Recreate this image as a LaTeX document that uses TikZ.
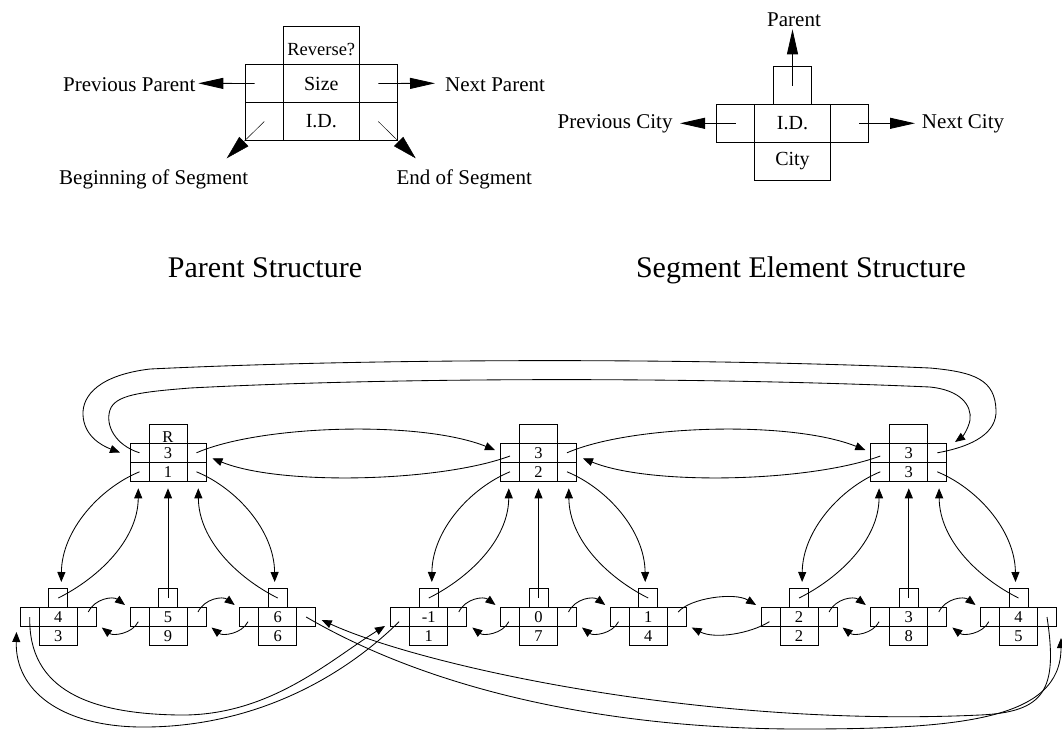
\documentclass[tikz,border=0pt]{standalone}
\usepackage{fontspec}
\setmainfont{Liberation Serif}
\usetikzlibrary{arrows.meta,calc}

% font sizes
\newcommand\fsDigit{\fontsize{16.5}{19}\selectfont}
\newcommand\fsCell{\fontsize{20}{24}\selectfont}
\newcommand\fsRev{\fontsize{18.5}{22}\selectfont}
\newcommand\fsOuter{\fontsize{21}{25}\selectfont}
\newcommand\fsTitle{\fontsize{30}{36}\selectfont}

\tikzset{
  sc/.style={draw, line width=0.85pt, minimum width=19pt, minimum height=19pt,
             inner sep=0pt, outer sep=0pt, font=\fsDigit},
  wc/.style={sc, minimum width=38pt},
  bsc/.style={draw, line width=0.85pt, minimum width=38pt, minimum height=38pt,
              inner sep=0pt, outer sep=0pt, font=\fsCell},
  bwc/.style={bsc, minimum width=76pt},
  arr/.style={-{Triangle[length=10pt,width=8pt]}, line width=0.85pt},
  bigarr/.style={-{Triangle[length=25pt,width=11pt]}, line width=0.85pt},
  thinarr/.style={-{Triangle[length=24pt,width=13pt]}, line width=0.45pt},
  lab/.style={font=\fsOuter, inner sep=0pt},
  ttl/.style={font=\fsTitle, inner sep=0pt},
}

% parent record: name, x, flag, size, id
\newcommand\parentrec[5]{%
  \node[wc] (#1-rv) at (#2,433.8) {};
  \node[font=\fsDigit, inner sep=0pt, anchor=base] (#1-rt) at (#2,442.3) {#3};
  \node[sc] (#1-pl) at ({#2-28.5},452.8) {};
  \node[wc] (#1-sz) at (#2,452.8) {#4};
  \node[sc] (#1-nx) at ({#2+28.5},452.8) {};
  \node[sc] (#1-bg) at ({#2-28.5},471.8) {};
  \node[wc] (#1-id) at (#2,471.8) {#5};
  \node[sc] (#1-en) at ({#2+28.5},471.8) {};
  \coordinate (#1-inl) at ({#2-43.5},450);
  \coordinate (#1-inr) at ({#2+44.5},458.3);
  \coordinate (#1-tl) at ({#2-29.7},488.3);
  \coordinate (#1-tm) at (#2,488.3);
  \coordinate (#1-tr) at ({#2+30.3},488.3);
  \coordinate (#1-po) at ({#2-28.5},456);
}

% segment element: name, x, id, city
\newcommand\segelem[4]{%
  \node[sc] (#1-up) at (#2,598) {};
  \node[sc] (#1-pl) at ({#2-28.5},617) {};
  \node[wc] (#1-id) at (#2,617) {#3};
  \node[sc] (#1-nx) at ({#2+28.5},617) {};
  \node[wc] (#1-ct) at (#2,636) {#4};
  \coordinate (#1-no) at ({#2+30},612);
  \coordinate (#1-po) at ({#2-29.7},621.7);
  \coordinate (#1-ni) at ({#2-43},605);
  \coordinate (#1-pi) at ({#2+43.5},627.5);
}

% links between neighbouring elements
\newcommand\nextarc[2]{\draw[arr] (#1-no) .. controls +(6.7,-13.7) and +(-12,-9) .. (#2-ni);}
\newcommand\prevarc[2]{\draw[arr] (#2-po) .. controls +(-6.3,12.3) and +(11.3,8.7) .. (#1-pi);}

% links between a parent and its three elements
\newcommand\famarcs[4]{%
  \draw[arr] (#1-bg.center) .. controls +(-39.5,16.2) and +(0.5,-52) .. ($(#2-up.north)+(3,-6.5)$);
  \draw[arr] (#2-up.center) .. controls +(40,-20) and +(-0.3,51.7) .. (#1-tl);
  \draw[arr] (#3-up.center) -- (#1-tm);
  \draw[arr] (#4-up.center) .. controls +(-40,-20) and +(0.3,51.7) .. (#1-tr);
  \draw[arr] (#1-en.center) .. controls +(39.5,16.2) and +(-0.5,-52) .. ($(#4-up.north)+(-3,-6.5)$);
}

% links between neighbouring parents
\newcommand\parnext[2]{\draw[arr] (#1-nx.center) .. controls +(63.5,-27.8) and +(-75,-30) .. (#2-inl);}
\newcommand\parprev[2]{\draw[arr] (#2-po) .. controls +(-70,26) and +(67.3,27.7) .. (#1-inr);}

\begin{document}
\begin{tikzpicture}[x=1pt,y=-1pt]
\useasboundingbox (0,0) rectangle (1062,729);

% ---------- parent structure legend ----------
\node[bwc] (ps-rv) at (321.3,45.5) {};
\node[font=\fsRev, inner sep=0pt, anchor=base] (ps-rvt) at (321.3,55.7) {Reverse?};
\node[bsc] (ps-pl) at (264.3,83.5) {};
\node[bwc] (ps-sz) at (321.3,83.5) {Size};
\node[bsc] (ps-nx) at (378.3,83.5) {};
\node[bsc] (ps-bg) at (264.3,121.5) {};
\node[bwc] (ps-id) at (321.3,121.5) {I.D.};
\node[bsc] (ps-en) at (378.3,121.5) {};

\node[lab, anchor=base east] (l-pp) at (195.7,91.7) {Previous Parent};
\node[lab, anchor=base west] (l-np) at (445,91.7) {Next Parent};
\node[lab, anchor=base] (l-bs) at (153.7,184.3) {Beginning of Segment};
\node[lab, anchor=base] (l-es) at (464.2,184.3) {End of Segment};
\coordinate (t-pp) at (198.3,83.3);
\coordinate (t-np) at (435,83.3);
\coordinate (t-bs) at (226.7,158.3);
\coordinate (t-es) at (415.7,158.3);
\draw[bigarr] ($(ps-pl.center)+(-9.6,0)$) -- (t-pp);
\draw[bigarr] (ps-nx.center) -- (t-np);
\draw[thinarr] (ps-bg.center) -- (t-bs);
\draw[thinarr] (ps-en.center) -- (t-es);

% ---------- segment element legend ----------
\node[bsc] (es-up) at (792.5,85.5) {};
\node[bsc] (es-pl) at (735.5,123.3) {};
\node[bwc] (es-id) at (792.5,123.3) {I.D.};
\node[bsc] (es-nx) at (849.5,123.3) {};
\node[bwc] (es-ct) at (792.5,161.3) {City};

\node[lab, anchor=base] (l-pa) at (794,26) {Parent};
\node[lab, anchor=base east] (l-pc) at (672.7,128.3) {Previous City};
\node[lab, anchor=base west] (l-nc) at (921.7,128.3) {Next City};
\coordinate (t-pa) at (792.5,29.3);
\coordinate (t-pc) at (680,123.3);
\coordinate (t-nc) at (915,123.3);
\draw[bigarr] (es-up.center) -- (t-pa);
\draw[bigarr] (es-pl.center) -- (t-pc);
\draw[bigarr] ($(es-nx.center)+(9.8,0)$) -- (t-nc);

% ---------- titles ----------
\node[ttl, anchor=base] (ttl-p) at (265,277) {Parent Structure};
\node[ttl, anchor=base] (ttl-s) at (801,277) {Segment Element Structure};

% ---------- example: parents ----------
\parentrec{p1}{168}{R}{3}{1}
\parentrec{p2}{538.5}{}{3}{2}
\parentrec{p3}{908.8}{}{3}{3}

% ---------- example: segment elements ----------
\segelem{a1}{58.3}{4}{3}
\segelem{a2}{168}{5}{9}
\segelem{a3}{277.7}{6}{6}
\segelem{b1}{428.8}{-1}{1}
\segelem{b2}{538.5}{0}{7}
\segelem{b3}{648.2}{1}{4}
\segelem{c1}{799.1}{2}{2}
\segelem{c2}{908.8}{3}{8}
\segelem{c3}{1018.5}{4}{5}

% parent ring
\parnext{p1}{p2}
\parnext{p2}{p3}
\parprev{p1}{p2}
\parprev{p2}{p3}
\coordinate (p1-lw) at (120,452.5);
\coordinate (p3-rw) at (955,442);
\draw[arr] (p3-nx.center) .. controls (975,446) and (997,432) .. (996,410)
  .. controls (995,380) and (975,372) .. (930,368)
  .. controls (700,358) and (380,358) .. (150,369)
  .. controls (100,375) and (82,395) .. (83,415)
  .. controls (84,435) and (100,445) .. (p1-lw);
\draw[arr] (p1-pl.center) .. controls (115,445) and (105,425) .. (110,410)
  .. controls (115,395) and (140,392) .. (190,388)
  .. controls (400,377) and (700,377) .. (930,387)
  .. controls (960,390) and (972,405) .. (970,420)
  .. controls (968,430) and (962,437) .. (p3-rw);

% parents and their elements
\famarcs{p1}{a1}{a2}{a3}
\famarcs{p2}{b1}{b2}{b3}
\famarcs{p3}{c1}{c2}{c3}

% element chains
\nextarc{a1}{a2}
\nextarc{a2}{a3}
\prevarc{a1}{a2}
\prevarc{a2}{a3}
\nextarc{b1}{b2}
\nextarc{b2}{b3}
\prevarc{b1}{b2}
\prevarc{b2}{b3}
\nextarc{c1}{c2}
\nextarc{c2}{c3}
\prevarc{c1}{c2}
\prevarc{c2}{c3}
\draw[arr] (b3-no) .. controls +(11.7,-14) and +(-21.7,-13) .. (c1-ni);
\draw[arr] (c1-po) .. controls +(-20,12.3) and +(22.7,11.7) .. (b3-pi);

% wrap-around links of the reversed segment
\coordinate (b1-lw) at (385,626);
\coordinate (a1-lw) at (16.5,632);
\coordinate (c3-rw) at (1061,638);
\coordinate (a3-rw) at (321.7,620);
\draw[arr] (a1-pl.center) .. controls (28,690) and (90,714) .. (180,715)
  .. controls (270,716) and (330,660) .. (b1-lw);
\draw[arr] (b1-po) .. controls (340,680) and (250,728) .. (140,727)
  .. controls (60,726) and (15,690) .. (a1-lw);
\draw[arr] (a3-nx.center) .. controls (440,695) and (620,729) .. (800,729)
  .. controls (960,729) and (1061,720) .. (c3-rw);
\draw[arr] (c3-nx.center) .. controls (1058,690) and (1045,712) .. (980,715)
  .. controls (700,728) and (420,665) .. (a3-rw);
\end{tikzpicture}
\end{document}
